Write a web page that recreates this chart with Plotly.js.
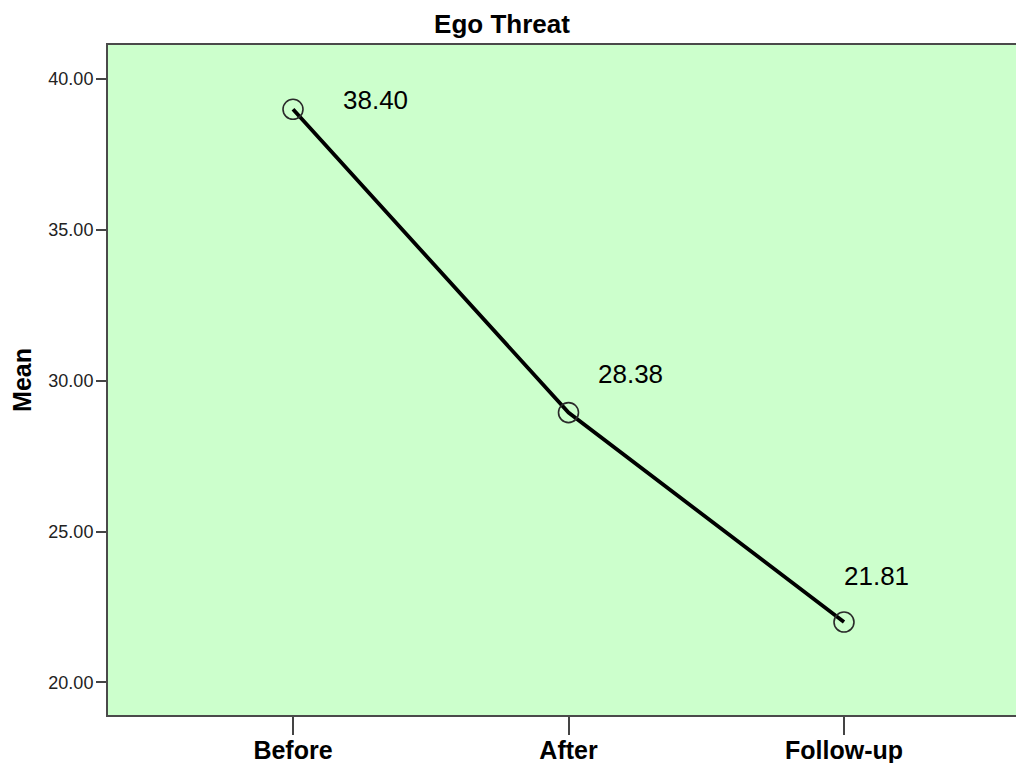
<!DOCTYPE html>
<html>
<head>
<meta charset="utf-8">
<script src="https://cdn.plot.ly/plotly-3.0.1.min.js"></script>
<style>
  html, body { margin: 0; padding: 0; background: #ffffff; overflow: hidden; }
  #chart { width: 1040px; height: 763px; }
</style>
</head>
<body>
<div id="chart"></div>
<script>
// ---- data ----
const chartTitle = 'Ego Threat';
const yAxisTitle = 'Mean';
const categories = ['Before', 'After', 'Follow-up'];
const meanValues = [38.99, 28.94, 22.00];      // plotted marker positions
const labelValues = [38.40, 28.38, 21.81];     // printed data labels
const yTickValues = [20, 25, 30, 35, 40];

// ---- layout helpers (pixel offsets of each data label from its marker) ----
const labelShiftX = [82, 62, 32];
const labelShiftY = [9, 39, 46];

const trace = {
  type: 'scatter',
  mode: 'lines+markers',
  x: categories,
  y: meanValues,
  line: { color: '#000000', width: 3.8 },
  marker: { symbol: 'circle-open', size: 20, color: '#2a2a2a', line: { width: 1.6, color: '#2a2a2a' } },
  hoverinfo: 'x+y',
  showlegend: false
};

const annotations = categories.map((c, i) => ({
  x: c,
  y: meanValues[i],
  xref: 'x',
  yref: 'y',
  text: labelValues[i].toFixed(2),
  showarrow: false,
  xanchor: 'center',
  yanchor: 'middle',
  xshift: labelShiftX[i],
  yshift: labelShiftY[i],
  font: { family: 'Arial, "Liberation Sans", sans-serif', size: 26, color: '#000000' }
}));

const W = 1040, H = 763;
const layout = {
  width: W,
  height: H,
  paper_bgcolor: '#ffffff',
  plot_bgcolor: '#ccffcc',
  margin: { l: 107.5, r: W - 1029.5, t: 45.3, b: 48, pad: 0 },
  title: {
    text: chartTitle,
    font: { family: 'Arial, "Liberation Sans", sans-serif', size: 26, color: '#000000', weight: 'bold' },
    xref: 'container', x: 502 / W, xanchor: 'center',
    yref: 'container', y: 1 - 23.5 / H, yanchor: 'middle'
  },
  xaxis: {
    type: 'category',
    range: [-0.6715, 2.6715],
    showgrid: false,
    zeroline: false,
    showline: true,
    mirror: true,
    linecolor: '#4a4a4a',
    linewidth: 2,
    ticks: 'outside',
    ticklen: 18,
    tickwidth: 1.5,
    tickcolor: '#444444',
    ticklabelstandoff: -6,
    tickfont: { family: 'Arial, "Liberation Sans", sans-serif', size: 25, color: '#000000', weight: 'bold' },
    fixedrange: true
  },
  yaxis: {
    range: [18.92, 41.12],
    tickvals: yTickValues,
    tickformat: '.2f',
    showgrid: false,
    zeroline: false,
    showline: true,
    mirror: true,
    linecolor: '#4a4a4a',
    linewidth: 2,
    ticks: 'outside',
    ticklen: 10,
    tickwidth: 1.5,
    tickcolor: '#444444',
    ticklabelstandoff: -1,
    tickfont: { family: 'Arial, "Liberation Sans", sans-serif', size: 18, color: '#222222' },
    title: {
      text: yAxisTitle,
      font: { family: 'Arial, "Liberation Sans", sans-serif', size: 25, color: '#000000', weight: 'bold' },
      standoff: 10
    },
    fixedrange: true
  },
  annotations: annotations
};

Plotly.newPlot('chart', [trace], layout, { displayModeBar: false, staticPlot: false });
</script>
</body>
</html>
